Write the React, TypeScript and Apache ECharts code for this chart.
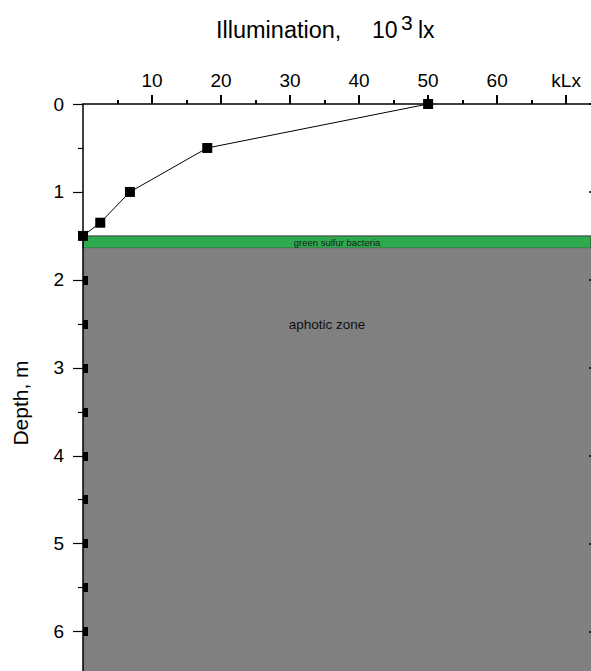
import React, { useEffect, useRef } from "react";
import * as echarts from "echarts";

// Light profile: illumination (klx) measured down the water column (m)
const illumination = [50, 18, 6.8, 2.5, 0];
const depth = [0, 0.5, 1.0, 1.35, 1.5];

// Layers below the lit water
const bacteriaLayer = [1.5, 1.64];
const aphoticLayer = [1.64, 6.8];

// Axis ranges and tick positions
const xMax = 73.6;
const yMax = 6.8;
const xTickValues = [10, 20, 30, 40, 50, 60, 70];
const yInnerTickValues = [1.5, 2, 2.5, 3, 3.5, 4, 4.5, 5, 5.5, 6, 6.5];

const FONT = "'Liberation Sans', Arial, sans-serif";

export default function App() {
  const ref = useRef<HTMLDivElement>(null);

  useEffect(() => {
    if (!ref.current) return;
    const chart = echarts.init(ref.current, null, { renderer: "svg" });
    const gridBox = { left: 83, top: 104, width: 508, height: 598, outerBoundsMode: "none" };

    chart.setOption({
      animation: false,
      backgroundColor: "#ffffff",
      textStyle: { fontFamily: FONT },
      grid: [{ ...gridBox }, { ...gridBox }],
      graphic: [
        { type: "text", left: 216, top: 18, style: { text: "Illumination,", font: `23.5px ${FONT}`, fill: "#000" } },
        { type: "text", left: 372, top: 18, style: { text: "10", font: `23px ${FONT}`, fill: "#000" } },
        { type: "text", left: 401, top: 12, style: { text: "3", font: `21px ${FONT}`, fill: "#000" } },
        { type: "text", left: 418, top: 18, style: { text: "lx", font: `23px ${FONT}`, fill: "#000" } },
      ],
      xAxis: [
        {
          gridIndex: 0,
          type: "value",
          position: "top",
          min: 0,
          max: xMax,
          interval: 10,
          z: 5,
          axisLine: { lineStyle: { color: "#000", width: 1.5 } },
          axisTick: { show: true, length: 9, customValues: xTickValues, lineStyle: { color: "#000", width: 2 } },
          minorTick: { show: true, splitNumber: 2, length: 4, lineStyle: { color: "#000", width: 2 } },
          axisLabel: {
            margin: 14,
            fontSize: 19,
            color: "#000",
            fontFamily: FONT,
            formatter: (v: number) => (v === 70 ? "kLx" : v > 0 && v % 10 === 0 ? String(v) : ""),
          },
          splitLine: { show: false },
        },
        { gridIndex: 1, type: "value", min: 0, max: xMax, show: false },
      ],
      yAxis: [
        {
          gridIndex: 0,
          type: "value",
          position: "left",
          inverse: true,
          min: 0,
          max: yMax,
          interval: 1,
          z: 5,
          name: "Depth, m",
          nameLocation: "middle",
          nameGap: 52,
          nameTextStyle: { fontSize: 21, color: "#000", fontFamily: FONT },
          axisLine: { lineStyle: { color: "#000", width: 1.5 } },
          axisTick: { show: true, length: 10, lineStyle: { color: "#000", width: 1.2 } },
          minorTick: { show: true, splitNumber: 2, length: 5, lineStyle: { color: "#000", width: 1.2 } },
          axisLabel: {
            margin: 19,
            fontSize: 19,
            color: "#000",
            fontFamily: FONT,
            formatter: (v: number) => (Number.isInteger(v) ? String(v) : ""),
          },
          splitLine: { show: false },
        },
        {
          gridIndex: 0,
          type: "value",
          position: "right",
          offset: 0,
          inverse: true,
          min: 0,
          max: yMax,
          interval: 1,
          z: 5,
          axisLine: { show: false },
          axisTick: { show: true, inside: true, length: 2, lineStyle: { color: "#000", width: 1.5 } },
          axisLabel: { show: false },
          splitLine: { show: false },
        },
        {
          gridIndex: 1,
          type: "value",
          position: "left",
          inverse: true,
          min: 0,
          max: yMax,
          interval: 0.5,
          z: 5,
          axisLine: { show: false },
          axisTick: { show: true, inside: true, length: 5, customValues: yInnerTickValues, lineStyle: { color: "#000", width: 9 } },
          axisLabel: { show: false },
          splitLine: { show: false },
        },
      ],
      series: [
        {
          type: "line",
          xAxisIndex: 0,
          yAxisIndex: 0,
          z: 3,
          data: illumination.map((x, i) => [x, depth[i]]),
          symbol: "rect",
          symbolSize: 10,
          itemStyle: { color: "#000" },
          lineStyle: { color: "#000", width: 1 },
          clip: false,
          markArea: {
            silent: true,
            data: [
              [
                {
                  yAxis: bacteriaLayer[0],
                  itemStyle: { color: "#2eaa4e", borderColor: "#3a3a3a", borderWidth: 1 },
                  label: { show: true, position: "inside", formatter: "green sulfur bacteria", fontSize: 9.5, color: "#1a1a1a", fontFamily: FONT },
                },
                { yAxis: bacteriaLayer[1] },
              ],
              [
                {
                  yAxis: aphoticLayer[0],
                  itemStyle: { color: "#808080", borderWidth: 0 },
                  label: { show: true, position: "insideTop", distance: 69, offset: [-10, 0], formatter: "aphotic zone", fontSize: 13.5, color: "#111", fontFamily: FONT },
                },
                { yAxis: aphoticLayer[1] },
              ],
            ],
          },
        },
      ],
    });

    return () => chart.dispose();
  }, []);

  return (
    <div
      ref={ref}
      style={{ position: "absolute", left: 0, top: 0, width: 591, height: 671 }}
    />
  );
}
